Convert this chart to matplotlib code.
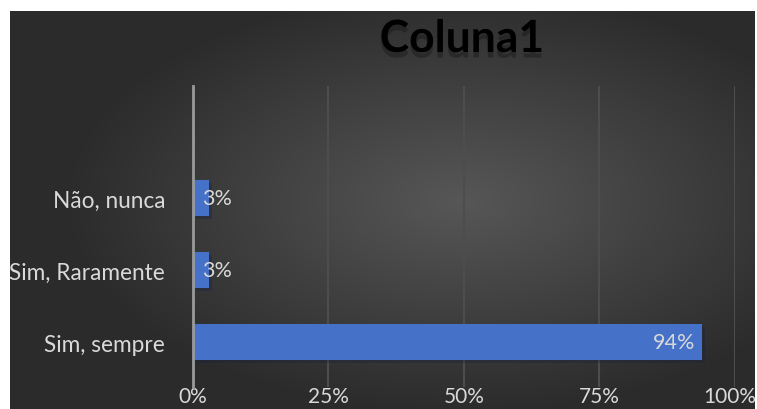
import numpy as np
import matplotlib
matplotlib.use("Agg")
import matplotlib.pyplot as plt
import matplotlib.patheffects as pe
import matplotlib.transforms as mtransforms

# data
categories = ["Sim, sempre", "Sim, Raramente", "Não, nunca"]
values = [94, 3, 3]
ticks = [0, 25, 50, 75, 100]
tick_labels = ["0%", "25%", "50%", "75%", "100%"]
title = "Coluna1"

plt.rcParams['font.family'] = ['Lato', 'DejaVu Sans']

W, H = 757, 410
fig = plt.figure(figsize=(W / 100, H / 100), dpi=100, facecolor="white")

# dark radial background
bg = fig.add_axes([10 / W, 0, 745 / W, 398 / H])
yy, xx = np.mgrid[0:398, 0:745]
r = np.sqrt(((xx - 450) / 745) ** 2 + ((yy - 190) / 398) ** 2)
shade = np.clip(0.34 - 0.32 * r, 0.17, 0.34)
bg.imshow(np.dstack([shade] * 3), aspect="auto", interpolation="bilinear")
bg.axis("off")

ax = fig.add_axes([193 / W, 22 / H, 542 / W, 301 / H])
ax.set_facecolor("none")
y = np.arange(len(categories))
bars = ax.barh(y, values, height=0.5, color="#4571c9", zorder=3,
               path_effects=[pe.SimplePatchShadow(offset=(2, -2), alpha=0.35), pe.Normal()])

ax.set_xlim(0, 100)
ax.set_ylim(-0.62, 3.56)
ax.set_xticks(ticks)
ax.set_xticklabels(tick_labels)
ax.set_yticks(y)
ax.set_yticklabels(categories)
ax.tick_params(axis="both", length=0, colors="#d9d9d9", labelsize=15)
ax.tick_params(axis="y", pad=20, labelsize=16.3)
ax.tick_params(axis="x", pad=-1)
ax.grid(axis="x", color="#4d4d4d", linewidth=1.5, zorder=0)
for s in ["top", "right", "bottom"]:
    ax.spines[s].set_visible(False)
ax.spines["left"].set_color("#9a9a9a")
ax.spines["left"].set_linewidth(2)
ax.spines["left"].set_zorder(4)

# keep the 100% label inside the canvas
last = ax.get_xticklabels()[-1]
last.set_transform(last.get_transform() + mtransforms.ScaledTranslation(-5 / 100, 0, fig.dpi_scale_trans))

for yi, v in zip(y, values):
    if v > 20:
        ax.text(v - 1.3, yi, f"{v}%", ha="right", va="center", color="#d9d9d9",
                fontsize=15.5, zorder=5)
    else:
        ax.text(1.7, yi, f"{v}%", ha="left", va="center", color="#d9d9d9",
                fontsize=15.5, zorder=5)

fig.text(462 / W, 1 - 40 / H, title, ha="center", va="center", fontsize=32,
         fontweight="bold", color="black",
         path_effects=[pe.withSimplePatchShadow(offset=(0, -4), shadow_rgbFace="black", alpha=0.25)])

fig.savefig("out.png", dpi=100, facecolor="white")
